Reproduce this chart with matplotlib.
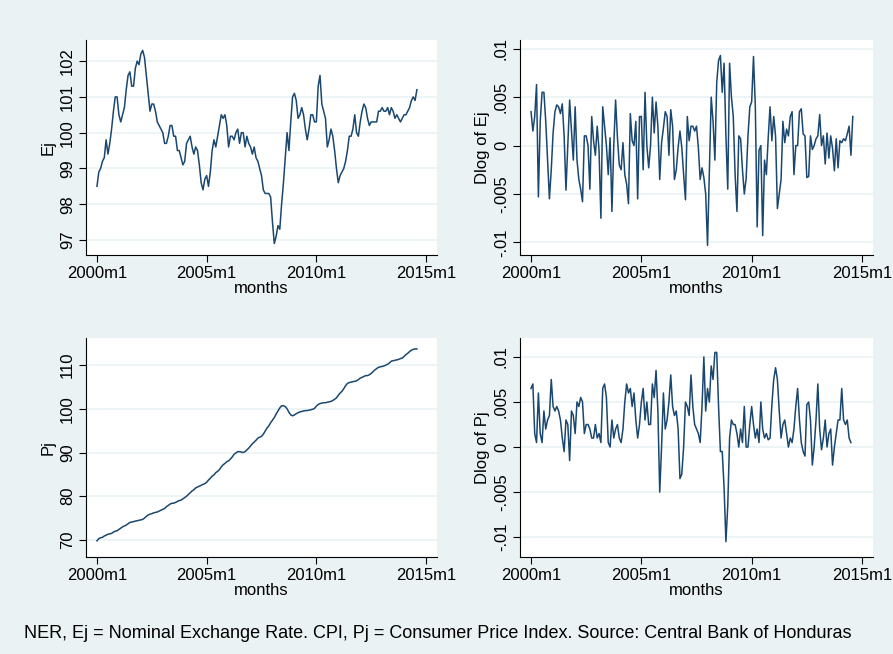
import matplotlib.pyplot as plt
import numpy as np

plt.rcParams['font.family'] = ['Liberation Sans', 'DejaVu Sans']

# monthly series, 2000m1 onward
ej = [98.5, 98.9, 99.0, 99.2, 99.3, 99.8, 99.4, 99.7, 100.1, 100.6, 101.0, 101.0,
      100.5, 100.3, 100.5, 100.7, 101.2, 101.6, 101.7, 101.3, 101.3, 101.8, 102.0, 101.9,
      102.2, 102.3, 102.1, 101.6, 101.1, 100.6, 100.8, 100.8, 100.6, 100.3, 100.2, 100.1,
      100.0, 99.7, 99.7, 99.9, 100.2, 100.2, 99.9, 99.9, 99.5, 99.5, 99.3, 99.1,
      99.2, 99.7, 99.8, 99.9, 99.6, 99.4, 99.6, 99.5, 99.1, 98.6, 98.4, 98.7,
      98.8, 98.5, 98.9, 99.5, 99.8, 99.6, 99.9, 100.2, 100.5, 100.4, 100.5, 100.2,
      99.6, 99.9, 99.9, 99.8, 100.0, 100.1, 99.7, 100.0, 100.0, 99.6, 99.9, 99.7,
      99.6, 99.4, 99.6, 99.3, 99.2, 99.0, 98.8, 98.4, 98.3, 98.3, 98.3, 98.2,
      97.5, 96.9, 97.1, 97.4, 97.3, 98.0, 98.6, 99.3, 100.0, 99.5, 100.3, 101.0,
      101.1, 100.9, 100.4, 100.5, 100.7, 100.5, 100.1, 99.8, 100.1, 100.5, 100.5, 100.3,
      100.3, 101.3, 101.6, 100.8, 100.6, 100.4, 99.6, 99.8, 100.1, 99.9, 99.5, 99.0,
      98.6, 98.8, 98.9, 99.0, 99.2, 99.5, 99.9, 99.9, 100.1, 100.5, 100.0, 99.9,
      100.3, 100.6, 100.8, 100.7, 100.4, 100.2, 100.3, 100.3, 100.3, 100.3, 100.6, 100.6,
      100.7, 100.6, 100.6, 100.7, 100.5, 100.7, 100.6, 100.4, 100.5, 100.4, 100.3, 100.4,
      100.5, 100.5, 100.6, 100.7, 100.9, 101.0, 100.9, 101.2]

dlog_ej = [3.5, 1.5, 3, 6.3, -5.3, 2.5, 5.5, 5.5, 2.5, -1.5, -5.5, -2.5,
           1.3, 3.5, 4.2, 4, 3.3, 4.3, 1, -4.6, 0, 4.7, 1.5, -1.5,
           4.0, -1.5, -3.5, -4.5, -5.8, 1, 1, 0, -4.5, 3, 0.5, -1,
           2, -0.5, -7.5, 4, 2, 0, -3, 0.8, -6.8, 0, 4.7, 0.8,
           -2, -2.5, 0.3, -3, -4, -6, 3.3, 0.5, 0, 2.5, -5.5, 3,
           3, -2.5, 5.5, 0, -2.3, 0, 5, 1.3, 4.5, 2, -3.5, 0.3,
           1.8, 3.5, 3, -1, 3.7, 2.0, -3.5, -2.5, -0.2, 1.5, -0.2, -3,
           -5.6, 3, 0.5, 2, 2, 1.5, 2, -0.2, -3.5, -2.3, -3.3, -5,
           -10.3, -2.6, 5, 2.5, -1.5, 6.5, 8.8, 9.3, 5.5, 8.5, 1, -4.5,
           8.5, 5, 3, -3, -6.8, 1, 0.7, -2.5, -5, -3.4, 1, 4,
           4.5, 9.2, 4, -8.4, -0.5, 0, -9.3, -1.5, -3, 0.8, 4, 0.5,
           3, 1, -6.5, -5, -3.5, 2.5, 0.3, 1.7, 1, 3, 3.5, -3,
           0, 0, 3.5, 3.8, 1.2, 1, -3.3, -3.2, 1, -0.4, 0, 0.7,
           1, 3.2, 0, 1, -1.9, 1.3, -1.3, 1, -0.3, -2.6, 0.7, -2.3,
           0.5, 0.3, 0.7, 0.5, 1.2, 2, -1, 3]

pj = [69.8, 70.3, 70.5, 70.6, 70.9, 71.1, 71.3, 71.4, 71.5, 71.8, 72.0, 72.1,
      72.4, 72.7, 73.0, 73.2, 73.4, 73.7, 74.0, 74.1, 74.2, 74.3, 74.4, 74.5,
      74.6, 74.7, 75.0, 75.4, 75.7, 75.9, 76.0, 76.2, 76.3, 76.4, 76.6, 76.8,
      77.0, 77.2, 77.6, 77.9, 78.2, 78.4, 78.4, 78.6, 78.8, 79.0, 79.1, 79.4,
      79.7, 80.0, 80.4, 80.8, 81.2, 81.5, 81.9, 82.1, 82.3, 82.5, 82.7, 82.9,
      83.2, 83.7, 84.1, 84.6, 84.9, 85.4, 85.7, 86.1, 86.7, 87.2, 87.5, 87.9,
      88.1, 88.5, 89.0, 89.6, 89.9, 90.2, 90.2, 90.1, 90.0, 90.2, 90.6, 91.0,
      91.5, 92.0, 92.4, 92.8, 93.3, 93.5, 93.7, 94.2, 94.9, 95.6, 96.1, 96.8,
      97.4, 98.0, 98.8, 99.5, 100.2, 100.7, 100.7, 100.5, 100.0, 99.2, 98.6, 98.4,
      98.6, 98.9, 99.1, 99.3, 99.4, 99.5, 99.6, 99.6, 99.7, 99.8, 99.9, 100.1,
      100.6, 101.0, 101.2, 101.3, 101.4, 101.4, 101.5, 101.6, 101.7, 101.9, 102.2, 102.5,
      103.1, 103.6, 104.0, 104.6, 105.3, 105.8, 106.0, 106.1, 106.2, 106.3, 106.4, 106.7,
      107.0, 107.2, 107.4, 107.6, 107.6, 107.8, 108.1, 108.5, 108.9, 109.2, 109.5, 109.6,
      109.7, 109.8, 110.0, 110.2, 110.5, 110.9, 111.0, 111.1, 111.2, 111.3, 111.5, 111.6,
      112.0, 112.4, 112.7, 113.1, 113.4, 113.6, 113.7, 113.7]

dlog_pj = [6.5, 7, 1.5, 0.5, 6, 1.5, 0.5, 4, 2, 3, 3.5, 7.5,
           4.5, 4, 4.5, 4, 3, 1, -0.5, 3, 2.5, -1.5, 4, 3.5,
           1.5, 5, 4.5, 5.5, 5, 1.5, 2.5, 2.5, 2, 1, 1, 2.5,
           1, 1.5, 0.5, 6.5, 7, 5.5, 0.5, 0, 3, 1, 2, 2.5,
           1, 0.5, 2, 5, 7, 6, 6.5, 4.5, 6, 3, 1, 2.5,
           5, 6.5, 3, 5, 2.5, 2.5, 7, 5.5, 8.5, 4, -5, 0,
           6, 2, 3, 5, 8, 4.5, 3.5, 4, 2, -3.5, -3, 0,
           5, 4.5, 3.5, 8, 4.5, 2.5, 2, 1.5, 0.5, 4.5, 10, 4,
           6.5, 5, 9, 7.5, 10.5, 10.5, 4.5, -0.5, -0.5, -4.5, -10.5, -6.5,
           1, 3, 2.5, 2.5, 1.5, 0, 2, 0.5, 4.5, 0, 0, 2.5,
           4.5, 2.5, 1, 2, 0.5, 5, 2, 1, 1.5, 0.8, 1, 4.7,
           7.5, 8.8, 7.5, 4, 1, 2.5, 3, 1.5, 0, 1, 0.5, 2,
           4.5, 6.5, 3, 0.5, -0.5, -1, 4.7, 5, 3, -2, 0, 3,
           7, 2, -0.3, 1, 3, 0, 1.5, 2, -2, 0, 1.5, 3,
           3, 6.5, 3, 2.5, 3, 1, 0.5]

xticks = [0, 60, 120, 180]
xticklabels = ['2000m1', '2005m1', '2010m1', '2015m1']

bg = '#eaf2f3'
line_col = '#1a476f'
W, H = 893, 654
FS = 12

fig = plt.figure(figsize=(W / 100, H / 100), dpi=100, facecolor=bg)


def make_ax(x0, y0, x1, y1):
    return fig.add_axes([x0 / W, 1 - y1 / H, (x1 - x0) / W, (y1 - y0) / H])


def style(ax, yticks, yticklabels, ylim, ylabel):
    ax.set_facecolor('white')
    for s in ['top', 'right']:
        ax.spines[s].set_visible(False)
    for s in ['left', 'bottom']:
        ax.spines[s].set_color('black')
        ax.spines[s].set_linewidth(0.8)
    ax.set_xlim(-6, 186)
    ax.set_xticks(xticks)
    ax.set_xticklabels(xticklabels, fontsize=FS)
    ax.set_ylim(*ylim)
    ax.set_yticks(yticks)
    ax.set_yticklabels(yticklabels, fontsize=FS, rotation=90, va='center')
    ax.tick_params(direction='out', length=5, width=0.8, pad=3)
    ax.grid(axis='y', color='#eaf2f3', linewidth=1.2)
    ax.set_axisbelow(True)
    ax.set_xlabel('months', fontsize=FS, labelpad=0)
    ax.set_ylabel(ylabel, fontsize=FS, labelpad=3)


panels = [
    ((86, 40, 437, 255), ej, [97, 98, 99, 100, 101, 102],
     ['97', '98', '99', '100', '101', '102'], (96.58, 102.59), 'Ej'),
    ((520, 40, 873, 255), dlog_ej, [-10, -5, 0, 5, 10],
     ['-.01', '-.005', '0', '.005', '.01'], (-11.3, 10.9), 'Dlog of Ej'),
    ((86, 338, 437, 557), pj, [70, 80, 90, 100, 110],
     ['70', '80', '90', '100', '110'], (66.1, 116.2), 'Pj'),
    ((520, 338, 873, 557), dlog_pj, [-10, -5, 0, 5, 10],
     ['-.01', '-.005', '0', '.005', '.01'], (-12.2, 12.1), 'Dlog of Pj'),
]

for box, series, yt, ytl, ylim, lab in panels:
    ax = make_ax(*box)
    ax.plot(np.arange(len(series)), series, color=line_col, linewidth=1.1)
    style(ax, yt, ytl, ylim, lab)

fig.text(24 / W, 1 - 633 / H,
         'NER, Ej = Nominal Exchange Rate. CPI, Pj = Consumer Price Index. '
         'Source: Central Bank of Honduras', fontsize=13, va='center', ha='left')

fig.savefig('out.png', dpi=100, facecolor=bg)
